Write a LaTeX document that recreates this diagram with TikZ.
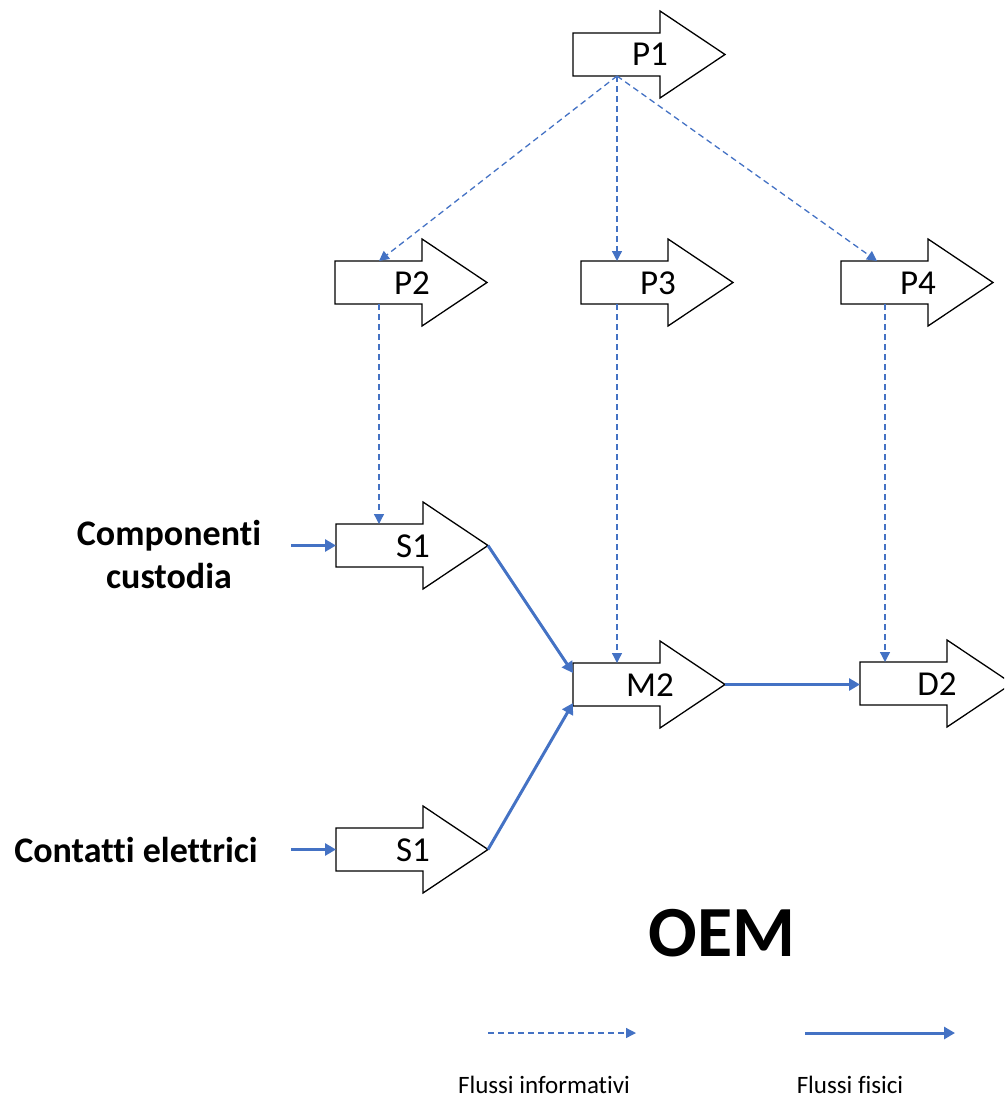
\documentclass[tikz,border=0pt]{standalone}
\usepackage{fontspec}
\setmainfont{Carlito}[Ligatures=NoCommon]
\usetikzlibrary{arrows.meta,calc}
\definecolor{flowblue}{HTML}{4472C4}

\tikzset{
  outline/.style={draw=black, line width=1.3pt, fill=white, line join=miter},
  infoflow/.style={draw=flowblue, line width=1.3pt, dash pattern=on 6pt off 4pt,
    -{Triangle[length=10pt,width=10pt]}},
  physflow/.style={draw=flowblue, line width=3pt,
    -{Triangle[length=11pt,width=12pt]}},
  steplabel/.style={font=\fontsize{35}{38}\selectfont, anchor=base, inner sep=0pt},
  sidelabel/.style={font=\fontsize{36}{43}\selectfont\bfseries, inner sep=0pt},
  legendlabel/.style={font=\fontsize{25}{30}\selectfont, anchor=base, inner sep=0pt},
  % block arrow: shaft 87 x 43, head 65 long, 87 tall
  flowarrow/.pic={
    \draw[outline] (0,0) -- (87,0) -- (87,-22) -- (152,21.5) -- (87,65)
      -- (87,43) -- (0,43) -- cycle;
    \coordinate (-nw) at (0,0);
    \coordinate (-sw) at (0,43);
    \coordinate (-n) at (44,0);
    \coordinate (-s) at (44,43);
    \coordinate (-w) at (0,21.5);
    \coordinate (-tip) at (152,21.5);
    \node[steplabel] (-text) at (77,33) {#1};
  }
}

\begin{document}
\begin{tikzpicture}[x=1pt,y=-1pt]
\useasboundingbox (0,0) rectangle (1004,1099);
\clip (0,0) rectangle (1004,1099);

% process steps
\pic (p1) at (573,33) {flowarrow=P1};
\pic (p2) at (335,261) {flowarrow=P2};
\pic (p3) at (581,261) {flowarrow=P3};
\pic (p4) at (841,261) {flowarrow=P4};
\pic (s1a) at (336,524) {flowarrow=S1};
\pic (s1b) at (336,828) {flowarrow=S1};
\pic (m2) at (573,663) {flowarrow=M2};
\pic (d2) at (860,662) {flowarrow=D2};

% inputs
\node[sidelabel, align=center] (cc) at (169,554) {Componenti\\custodia};
\node[sidelabel, anchor=base] (ce) at (136,862) {Contatti elettrici};
\coordinate (in1) at (291,545.5);
\coordinate (in2) at (291,849.5);

% information flows
\draw[infoflow] (p1-s) -- (p2-n);
\draw[infoflow] (p1-s) -- (p1-s |- p3-nw);
\draw[infoflow] (p1-s) -- ($(p4-n)+(-8,0)$);
\draw[infoflow] (p2-s) -- (p2-s |- s1a-nw);
\draw[infoflow] (p1-s |- p3-sw) -- (p1-s |- m2-nw);
\draw[infoflow] (p4-s) -- (p4-s |- d2-nw);

% physical flows
\draw[physflow] (in1) -- (s1a-w);
\draw[physflow] (in2) -- (s1b-w);
\draw[physflow] (s1a-tip) -- ($(m2-nw)+(0,10)$);
\draw[physflow] (s1b-tip) -- ($(m2-nw)+(0,40)$);
\draw[physflow] (m2-tip) -- (m2-tip -| d2-nw);

% title
\node[font=\fontsize{72}{80}\selectfont\bfseries, anchor=base, inner sep=0pt] (oem) at (722,956) {OEM};

% legend
\coordinate (li0) at (488,1033);
\coordinate (li1) at (636,1033);
\coordinate (lp0) at (805,1033);
\coordinate (lp1) at (955,1033);
\draw[infoflow] (li0) -- (li1);
\draw[physflow] (lp0) -- (lp1);
\node[legendlabel] (lit) at (544,1093) {Flussi informativi};
\node[legendlabel] (lpt) at (850,1093) {Flussi fisici};
\end{tikzpicture}
\end{document}
